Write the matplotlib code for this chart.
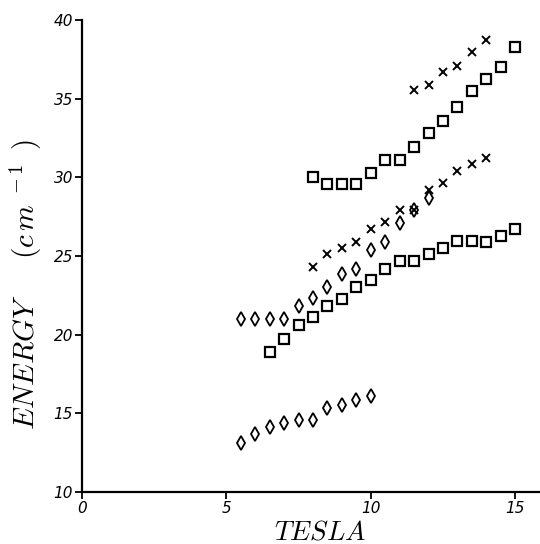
import matplotlib
matplotlib.use("Agg")
import matplotlib.pyplot as plt

# Magnetic field (tesla) and transition energies (cm^-1) for each branch
diam_lo_b = [5.5, 6.0, 6.5, 7.0, 7.5, 8.0, 8.5, 9.0, 9.5, 10.0]
diam_lo_e = [13.1, 13.7, 14.15, 14.4, 14.6, 14.6, 15.35, 15.5, 15.85, 16.1]

diam_hi_b = [5.5, 6.0, 6.5, 7.0, 7.5, 8.0, 8.5, 9.0, 9.5, 10.0, 10.5, 11.0, 11.5, 12.0]
diam_hi_e = [21.0, 21.0, 21.0, 21.0, 21.8, 22.3, 23.0, 23.85, 24.2, 25.4, 25.9, 27.1, 27.95, 28.7]

sq_lo_b = [6.5, 7.0, 7.5, 8.0, 8.5, 9.0, 9.5, 10.0, 10.5, 11.0, 11.5, 12.0,
           12.5, 13.0, 13.5, 14.0, 14.5, 15.0]
sq_lo_e = [18.9, 19.7, 20.6, 21.1, 21.8, 22.25, 23.0, 23.45, 24.2, 24.7, 24.7, 25.15,
           25.5, 25.95, 25.95, 25.9, 26.3, 26.7]

sq_hi_b = [8.0, 8.5, 9.0, 9.5, 10.0, 10.5, 11.0, 11.5, 12.0, 12.5, 13.0, 13.5,
           14.0, 14.5, 15.0]
sq_hi_e = [30.0, 29.55, 29.55, 29.55, 30.3, 31.1, 31.1, 31.95, 32.8, 33.55, 34.45, 35.5,
           36.25, 37.0, 38.3]

x_lo_b = [8.0, 8.5, 9.0, 9.5, 10.0, 10.5, 11.0, 11.5, 12.0, 12.5, 13.0, 13.5, 14.0]
x_lo_e = [24.3, 25.1, 25.5, 25.9, 26.7, 27.15, 27.95, 27.9, 29.2, 29.65, 30.4, 30.85, 31.2]

x_hi_b = [11.5, 12.0, 12.5, 13.0, 13.5, 14.0]
x_hi_e = [35.55, 35.85, 36.7, 37.1, 37.95, 38.7]

x_ticks = [0, 5, 10, 15]
y_ticks = [10, 15, 20, 25, 30, 35, 40]

plt.rcParams["mathtext.fontset"] = "cm"

fig = plt.figure(figsize=(5.4, 5.44), dpi=100)
ax = fig.add_axes([82 / 540, 52 / 544, 458 / 540, 472 / 544])

common = dict(linestyle="none", color="black", markerfacecolor="none")
ax.plot(diam_lo_b, diam_lo_e, marker="d", markersize=7.2, markeredgewidth=1.3, **common)
ax.plot(diam_hi_b, diam_hi_e, marker="d", markersize=7.2, markeredgewidth=1.3, **common)
ax.plot(sq_lo_b, sq_lo_e, marker="s", markersize=7.0, markeredgewidth=1.6, **common)
ax.plot(sq_hi_b, sq_hi_e, marker="s", markersize=7.0, markeredgewidth=1.6, **common)
ax.plot(x_lo_b, x_lo_e, marker="x", markersize=6.0, markeredgewidth=1.4, **common)
ax.plot(x_hi_b, x_hi_e, marker="x", markersize=6.0, markeredgewidth=1.4, **common)

ax.set_xlim(0, 15.86)
ax.set_ylim(10, 40)
ax.set_xticks(x_ticks)
ax.set_yticks(y_ticks)
tick_font = dict(fontstyle="italic", family="DejaVu Sans", fontsize=11)
ax.set_xticklabels([str(t) for t in x_ticks], **tick_font)
ax.set_yticklabels([str(t) for t in y_ticks], **tick_font)
ax.tick_params(direction="out", length=5, width=1.3, pad=1.5)

for side in ("top", "right"):
    ax.spines[side].set_visible(False)
for side in ("left", "bottom"):
    ax.spines[side].set_linewidth(1.6)

ax.set_ylabel(r"$ENERGY\ \ \ \ \ (c\,m^{\ -1}\ \,)$", fontsize=21)
ax.set_xlabel(r"$TESLA$", fontsize=19.5)
ax.yaxis.set_label_coords(-0.083, 0.44)
ax.xaxis.set_label_coords(0.52, -0.058)

fig.savefig("out.png", dpi=100)
